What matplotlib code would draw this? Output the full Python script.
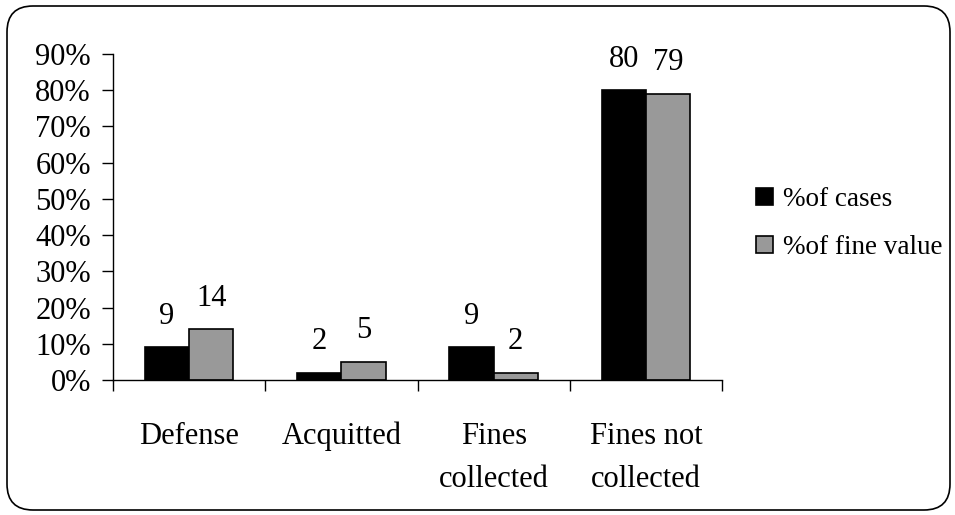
import matplotlib
matplotlib.use("Agg")
import matplotlib.pyplot as plt
from matplotlib.patches import FancyBboxPatch
from matplotlib.ticker import MultipleLocator, FuncFormatter
import numpy as np

categories = ["Defense", "Acquitted", "Fines\ncollected", "Fines not\ncollected"]
pct_cases = [9, 2, 9, 80]
pct_fine_value = [14, 5, 2, 79]
series_names = ["%of cases", "%of fine value"]

plt.rcParams["font.family"] = ["Liberation Serif", "DejaVu Serif"]
FS = 22

fig = plt.figure(figsize=(9.55, 5.15), dpi=100)
ax = fig.add_axes([113 / 955, 1 - 380 / 515, (722 - 113) / 955, (380 - 54) / 515])

x = np.arange(len(categories))
w = 0.29
b1 = ax.bar(x - w / 2, pct_cases, w, color="black", edgecolor="black", linewidth=1.2,
            label=series_names[0])
b2 = ax.bar(x + w / 2, pct_fine_value, w, color="#999999", edgecolor="black", linewidth=1.2,
            label=series_names[1])

for bars, vals in ((b1, pct_cases), (b2, pct_fine_value)):
    for r, v in zip(bars, vals):
        ax.annotate(f"{v}", (r.get_x() + r.get_width() / 2, v), xytext=(0, 12),
                    textcoords="offset points", ha="center", va="bottom", fontsize=FS)

ax.set_xlim(-0.5, len(categories) - 0.5)
ax.set_ylim(0, 90)
ax.yaxis.set_major_locator(MultipleLocator(10))
ax.yaxis.set_major_formatter(FuncFormatter(lambda v, p: f"{v:.0f}%"))
ax.set_xticks(np.arange(len(categories) + 1) - 0.5)
ax.set_xticklabels([])
ax.set_xticks(x, minor=True)
ax.set_xticklabels(categories, minor=True, fontsize=FS, linespacing=1.65)
ax.tick_params(axis="x", which="minor", length=0, pad=30)
ax.tick_params(axis="x", which="major", length=8, width=1, direction="out")
ax.tick_params(axis="y", length=8, width=1, direction="out", labelsize=FS, pad=8)
for t in ax.get_xticklabels(minor=True):
    t.set_va("top")

for s in ("top", "right"):
    ax.spines[s].set_visible(False)
for s in ("left", "bottom"):
    ax.spines[s].set_linewidth(1)

leg = ax.legend(loc="center left", bbox_to_anchor=(1.0, 0.48), frameon=False, fontsize=19.5,
                handlelength=0.62, handleheight=0.62, handletextpad=0.4, labelspacing=0.85,
                borderaxespad=0.85)

# rounded outer frame drawn in pixel coordinates
frame = FancyBboxPatch((7, 5), 943, 504, boxstyle="round,pad=0,rounding_size=26",
                       transform=None, facecolor="none", edgecolor="black", linewidth=1.2)
fig.patches.append(frame)

fig.savefig("out.png", dpi=100)
